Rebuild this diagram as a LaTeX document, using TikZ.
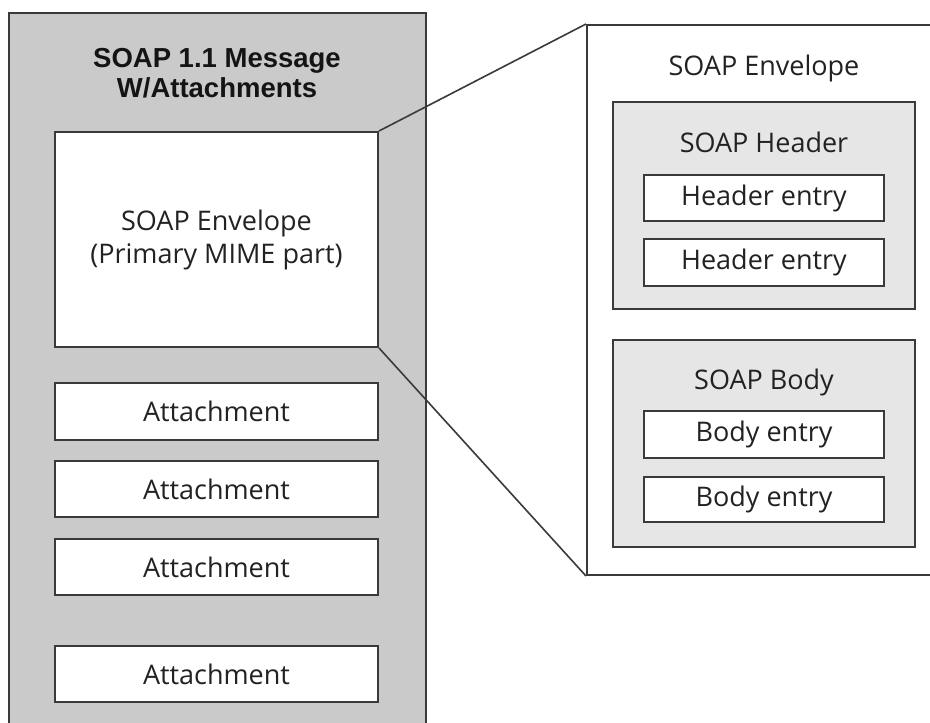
\documentclass[tikz,border=0pt]{standalone}
\usepackage{fontspec}
\setmainfont{Open Sans}
\newfontfamily\titlefont{Liberation Sans}
\definecolor{edge}{HTML}{3A3A3A}
\definecolor{outerfill}{HTML}{CACACA}
\definecolor{panelfill}{HTML}{E6E6E6}
\definecolor{ink}{HTML}{222222}
\begin{document}
\begin{tikzpicture}[x=1pt,y=-1pt,
  box/.style={draw=edge, line width=2pt, rectangle, inner sep=0pt, text=ink,
    font=\fontsize{27}{33}\selectfont},
  whitebox/.style={box, fill=white},
  panel/.style={box, fill=panelfill},
  caption/.style={inner sep=0pt, text=ink, font=\fontsize{27}{33}\selectfont},
  link/.style={draw=edge, line width=1.6pt}]
\useasboundingbox (0,0) rectangle (930,723);
\clip (0,0) rectangle (930,723);
\fill[white] (0,0) rectangle (930,723);

% SOAP message with attachments (left column)
\node[box, fill=outerfill, minimum width=417pt, minimum height=727pt] (msg) at (217.5,376.5) {};
\node[inner sep=0pt, align=center, text=black!92,
  font=\titlefont\bfseries\fontsize{27.5}{30}\selectfont] (title) at (217,73)
  {SOAP 1.1 Message\\W/Attachments};
\node[whitebox, align=center, minimum width=323pt, minimum height=215pt] (env)
  at (216.5,239.5) {SOAP Envelope\\(Primary MIME part)};
\node[whitebox, minimum width=323pt, minimum height=57pt] (att1) at (216.5,411.5) {Attachment};
\node[whitebox, minimum width=323pt, minimum height=56pt] (att2) at (216.5,489) {Attachment};
\node[whitebox, minimum width=323pt, minimum height=56pt] (att3) at (216.5,567) {Attachment};
\node[whitebox, minimum width=323pt, minimum height=56pt] (att4) at (216.5,674) {Attachment};

% Expanded view of the envelope (right column)
\node[box, fill=white, minimum width=363pt, minimum height=550pt] (detail) at (768.5,300) {};
\node[caption] (detlabel) at (764,68) {SOAP Envelope};

\node[panel, minimum width=302pt, minimum height=207pt] (hdr) at (764,205.5) {};
\node[caption] (hdrlabel) at (764,142) {SOAP Header};
\node[whitebox, minimum width=240pt, minimum height=46pt] (he1) at (764,198) {Header entry};
\node[whitebox, minimum width=240pt, minimum height=47pt] (he2) at (764,262.5) {Header entry};

\node[panel, minimum width=302pt, minimum height=207pt] (body) at (764,443.5) {};
\node[caption] (bodylabel) at (764,382) {SOAP Body};
\node[whitebox, minimum width=240pt, minimum height=47pt] (be1) at (764,434.5) {Body entry};
\node[whitebox, minimum width=240pt, minimum height=45pt] (be2) at (764,499.5) {Body entry};

% Zoom lines from the primary part to its expanded view
\draw[link] (env.north east) -- (detail.north west);
\draw[link] (env.south east) -- (detail.south west);
\end{tikzpicture}
\end{document}
